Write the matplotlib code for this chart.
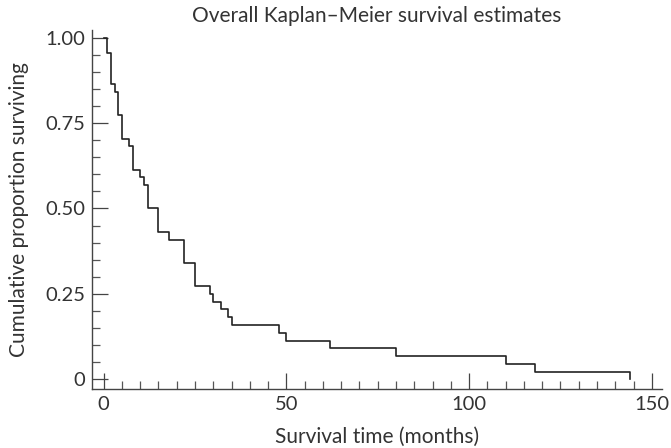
import matplotlib
matplotlib.use("Agg")
import matplotlib.pyplot as plt
from matplotlib.ticker import MultipleLocator, FixedLocator

# Kaplan-Meier step data (time in months, cumulative proportion surviving)
times = [0, 1, 2, 3, 4, 5, 7, 8, 10, 11, 12, 15, 18, 22, 25, 29, 30, 32, 34, 35,
         48, 50, 62, 80, 110, 118, 144]
at_risk_remaining = [44, 42, 38, 37, 34, 31, 30, 27, 26, 25, 22, 19, 18, 15, 12, 11,
                     10, 9, 8, 7, 6, 5, 4, 3, 2, 1, 0]
n_total = 44
survival = [k / n_total for k in at_risk_remaining]

x_ticks = [0, 50, 100, 150]
x_ticklabels = ["0", "50", "100", "150"]
y_ticks = [0, 0.25, 0.5, 0.75, 1.0]
y_ticklabels = ["0", "0.25", "0.50", "0.75", "1.00"]

title = "Overall Kaplan\u2013Meier survival estimates"
xlabel = "Survival time (months)"
ylabel = "Cumulative proportion surviving"

plt.rcParams['font.family'] = ['Lato', 'DejaVu Sans']
text_color = "#333333"

fig = plt.figure(figsize=(6.71, 4.48), dpi=100)
ax = fig.add_axes([0.1376, 0.131, 0.8485, 0.802])

ax.step(times, survival, where="post", color="#222222", linewidth=1.2)

ax.set_xlim(-3.1, 152.7)
ax.set_ylim(-0.029, 1.022)

for s in ["top", "right"]:
    ax.spines[s].set_visible(False)
for s in ["left", "bottom"]:
    ax.spines[s].set_color("#444444")
    ax.spines[s].set_linewidth(1.0)

ax.xaxis.set_major_locator(FixedLocator(x_ticks))
ax.set_xticklabels(x_ticklabels)
ax.yaxis.set_major_locator(FixedLocator(y_ticks))
ax.set_yticklabels(y_ticklabels)
ax.xaxis.set_minor_locator(MultipleLocator(5))
ax.yaxis.set_minor_locator(MultipleLocator(0.05))

ax.tick_params(which="major", direction="in", length=11.5, width=0.9,
               color="#444444", labelsize=14.5, labelcolor=text_color, pad=5)
ax.tick_params(which="minor", direction="in", length=6, width=0.9, color="#555555")

ax.set_xlabel(xlabel, fontsize=15, color=text_color, labelpad=10)
ax.set_ylabel(ylabel, fontsize=15, color=text_color, labelpad=12)
ax.set_title(title, fontsize=15, color=text_color, pad=6)

fig.savefig("out.png", dpi=100)
